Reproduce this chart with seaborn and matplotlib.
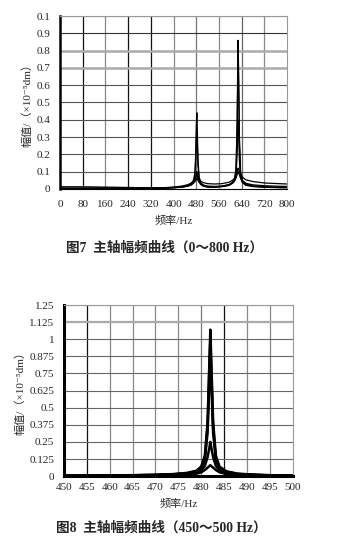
import numpy as np
import pandas as pd
import matplotlib
matplotlib.use("Agg")
import matplotlib.pyplot as plt
import seaborn as sns

# ---------------- data: Fig 7 (0~800 Hz) ----------------
freq_a = [0, 40, 80, 160, 240, 320, 360, 400, 430, 450, 462, 470, 475, 478, 480,
          482, 484, 486, 490, 496, 505, 520, 545, 570, 595, 608, 615, 620, 624,
          627, 629, 632, 636, 642, 655, 680, 720, 770, 800]
amp_a1 = [0.012, 0.012, 0.012, 0.010, 0.008, 0.006, 0.006, 0.008, 0.012, 0.018,
          0.028, 0.050, 0.090, 0.20, 0.36, 0.44, 0.32, 0.17, 0.07, 0.035, 0.020,
          0.013, 0.012, 0.015, 0.024, 0.040, 0.060, 0.12, 0.40, 0.86, 0.70, 0.30,
          0.10, 0.05, 0.028, 0.017, 0.012, 0.009, 0.008]
amp_a2 = [0.004, 0.004, 0.004, 0.004, 0.004, 0.004, 0.004, 0.006, 0.010, 0.016,
          0.024, 0.042, 0.075, 0.16, 0.28, 0.33, 0.25, 0.13, 0.06, 0.030, 0.017,
          0.011, 0.010, 0.013, 0.021, 0.035, 0.052, 0.10, 0.34, 0.78, 0.62, 0.26,
          0.085, 0.042, 0.024, 0.015, 0.010, 0.008, 0.007]
amp_a3 = [0.003, 0.003, 0.003, 0.003, 0.003, 0.003, 0.004, 0.006, 0.010, 0.015,
          0.022, 0.032, 0.046, 0.066, 0.085, 0.10, 0.082, 0.060, 0.038, 0.024,
          0.015, 0.010, 0.010, 0.013, 0.020, 0.032, 0.046, 0.080, 0.20, 0.40,
          0.33, 0.16, 0.065, 0.036, 0.020, 0.013, 0.009, 0.007, 0.006]
amp_a4 = [0.002, 0.002, 0.002, 0.003, 0.004, 0.005, 0.006, 0.010, 0.016, 0.024,
          0.034, 0.046, 0.058, 0.068, 0.076, 0.080, 0.074, 0.066, 0.054, 0.044,
          0.036, 0.030, 0.028, 0.030, 0.038, 0.050, 0.062, 0.080, 0.100, 0.12,
          0.115, 0.100, 0.084, 0.068, 0.052, 0.042, 0.034, 0.030, 0.028]
amp_a5 = [0.001, 0.001, 0.002, 0.002, 0.003, 0.004, 0.005, 0.008, 0.013, 0.019,
          0.026, 0.034, 0.042, 0.050, 0.056, 0.060, 0.055, 0.048, 0.040, 0.032,
          0.022, 0.016, 0.014, 0.016, 0.024, 0.034, 0.046, 0.062, 0.082, 0.10,
          0.094, 0.080, 0.062, 0.046, 0.032, 0.023, 0.018, 0.015, 0.014]
series_a = [amp_a1, amp_a2, amp_a3, amp_a4, amp_a5]

xticks_a = [0, 80, 160, 240, 320, 400, 480, 560, 640, 720, 800]
yticks_a = [0, 0.1, 0.2, 0.3, 0.4, 0.5, 0.6, 0.7, 0.8, 0.9, 1.0]
ylabels_a = ["0", "0.1", "0.2", "0.3", "0.4", "0.5", "0.6", "0.7", "0.8", "0.9", "0.1"]

# ---------------- data: Fig 8 (450~500 Hz) ----------------
freq_b = [450, 455, 460, 465, 470, 474, 477, 479, 480, 480.8, 481.4, 481.8, 482,
          482.2, 482.6, 483.2, 484, 485.5, 488, 492, 496, 500]
amp_b1 = [0.003, 0.004, 0.005, 0.007, 0.010, 0.015, 0.024, 0.040, 0.070, 0.15,
          0.40, 0.85, 1.07, 0.85, 0.40, 0.15, 0.070, 0.035, 0.018, 0.010, 0.006, 0.004]
amp_b2 = [0.003, 0.004, 0.005, 0.006, 0.009, 0.014, 0.022, 0.036, 0.062, 0.13,
          0.36, 0.80, 1.00, 0.78, 0.36, 0.13, 0.062, 0.032, 0.016, 0.009, 0.005, 0.004]
amp_b3 = [0.002, 0.003, 0.004, 0.006, 0.008, 0.012, 0.020, 0.032, 0.055, 0.12,
          0.32, 0.70, 0.90, 0.70, 0.32, 0.12, 0.055, 0.028, 0.014, 0.008, 0.005, 0.003]
amp_b4 = [0.002, 0.002, 0.003, 0.004, 0.006, 0.010, 0.016, 0.026, 0.042, 0.075,
          0.14, 0.21, 0.25, 0.21, 0.14, 0.075, 0.042, 0.022, 0.012, 0.007, 0.004, 0.003]
amp_b5 = [0.001, 0.002, 0.002, 0.003, 0.004, 0.007, 0.011, 0.018, 0.028, 0.045,
          0.062, 0.074, 0.080, 0.074, 0.062, 0.045, 0.028, 0.016, 0.009, 0.005, 0.003, 0.002]
series_b = [amp_b1, amp_b2, amp_b3, amp_b4, amp_b5]

xticks_b = [450, 455, 460, 465, 470, 475, 480, 485, 490, 495, 500]
yticks_b = [0, 0.125, 0.25, 0.375, 0.5, 0.625, 0.75, 0.875, 1.0, 1.125, 1.25]
ylabels_b = ["0", "0.125", "0.25", "0.375", "0.5", "0.625", "0.75", "0.875", "1", "1.125", "1.25"]

xlabel = "频率/Hz"
ylabel = "幅值/（×10⁻⁵dm）"
caption_a = "图7  主轴幅频曲线（0～800 Hz）"
caption_b = "图8  主轴幅频曲线（450～500 Hz）"

# ---------------- drawing ----------------
sns.set_style("white")
fam = ["Liberation Serif", "Noto Sans CJK SC", "DejaVu Sans"]
plt.rcParams["font.family"] = fam

fig = plt.figure(figsize=(3.51, 5.38), dpi=100)
fig.patch.set_facecolor("white")

ax1 = fig.add_axes([0.171, 0.649, 0.647, 0.321])
ax2 = fig.add_axes([0.182, 0.115, 0.652, 0.318])

for s in series_a:
    sns.lineplot(x=freq_a, y=s, ax=ax1, color="black", lw=0.9)
for s in series_b:
    sns.lineplot(x=freq_b, y=s, ax=ax2, color="black", lw=1.8)

def style(ax, xt, yt, yl, vcolors, hcolors, hwidths, left_w, bottom_w):
    ax.set_xlim(xt[0], xt[-1])
    ax.set_ylim(yt[0], yt[-1])
    ax.set_xticks(xt)
    ax.set_xticklabels([str(v) for v in xt], fontsize=8)
    ax.set_yticks(yt)
    ax.set_yticklabels(yl, fontsize=8)
    ax.set_axisbelow(True)
    for x, c in zip(xt[1:-1], vcolors):
        ax.axvline(x, color=c, lw=0.9, zorder=0)
    for y, c, w in zip(yt[1:], hcolors, hwidths):
        ax.axhline(y, color=c, lw=w, zorder=0)
    for side in ["top", "right"]:
        ax.spines[side].set_visible(True)
        ax.spines[side].set_color("#999999")
        ax.spines[side].set_linewidth(0.8)
    ax.spines["left"].set_color("black")
    ax.spines["left"].set_linewidth(left_w)
    ax.spines["bottom"].set_color("black")
    ax.spines["bottom"].set_linewidth(bottom_w)
    ax.tick_params(axis="y", length=0, pad=7)
    ax.tick_params(axis="x", length=3, width=0.8, pad=5, direction="out", color="#444444")
    ax.set_xlabel(xlabel, fontsize=8, labelpad=5)
    ax.set_ylabel(ylabel, fontsize=8, labelpad=3)

style(ax1, xticks_a, yticks_a, ylabels_a,
      ["#111111", "#888888", "#111111", "#111111", "#888888", "#777777", "#888888", "#666666", "#888888"],
      ["#555555", "#555555", "#555555", "#555555", "#555555", "#555555", "#aaaaaa", "#aaaaaa", "#333333", "#555555"],
      [0.8, 0.8, 0.8, 0.8, 0.8, 0.8, 1.8, 1.8, 0.8, 0.8],
      1.8, 0.8)
style(ax2, xticks_b, yticks_b, ylabels_b,
      ["#111111", "#888888", "#888888", "#888888", "#888888", "#777777", "#111111", "#888888", "#888888"],
      ["#666666", "#666666", "#666666", "#666666", "#666666", "#666666", "#666666", "#666666", "#aaaaaa", "#888888"],
      [0.8, 0.8, 0.8, 0.8, 0.8, 0.8, 0.8, 0.8, 1.6, 0.8],
      2.2, 2.2)
ax2.tick_params(axis="x", length=0, pad=5)

fig.text(0.468, 0.539, caption_a, ha="center", va="center", fontsize=9.8,
         fontweight="bold", family=fam)
fig.text(0.460, 0.019, caption_b, ha="center", va="center", fontsize=9.8,
         fontweight="bold", family=fam)

fig.savefig("out.png", dpi=100, facecolor="white")
